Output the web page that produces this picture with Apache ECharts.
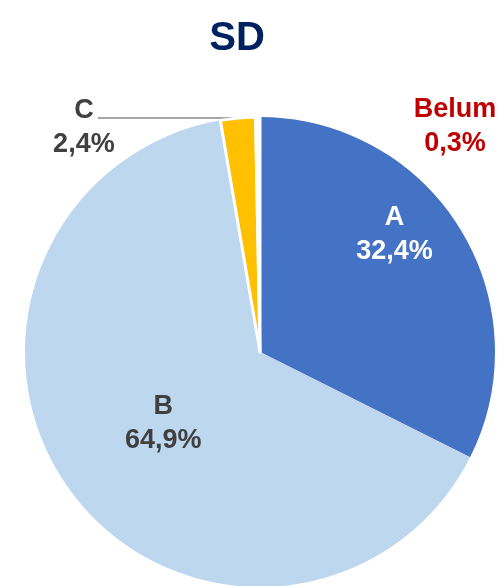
<!DOCTYPE html>
<html>
<head>
    <meta charset="utf-8">
    <title>SD</title>
    <script src="https://cdn.jsdelivr.net/npm/echarts@6/dist/echarts.min.js"></script>
    <style>
        html, body { margin: 0; padding: 0; background: #fff; }
    </style>
</head>
<body>
    <div id="main" style="width: 504px;height:586px;"></div>
    <script type="text/javascript">
        // data
        var categories = ['A', 'B', 'C', 'Belum'];
        var values = [32.4, 64.9, 2.4, 0.3];
        var colors = ['#4472C4', '#BDD7EE', '#FFC000', '#FFFFFF'];
        var labelColors = ['#FFFFFF', '#404040', '#404040', '#C00000'];

        var font = "'Liberation Sans', Arial, sans-serif";

        var data = [];
        for (var i = 0; i < categories.length; i++) {
            var item = {
                name: categories[i],
                value: values[i],
                itemStyle: { color: colors[i] },
                label: { color: labelColors[i] }
            };
            if (i < 2) {
                item.label.position = 'inside';
                item.labelLine = { show: false };
            } else {
                item.itemStyle.borderColor = '#FFFFFF';
                item.itemStyle.borderWidth = 3;
                item.label.position = 'outside';
            }
            data.push(item);
        }
        // C has a leader line, Belum does not
        data[2].labelLine = {
            show: true,
            length: 0,
            length2: 140,
            lineStyle: { color: '#A6A6A6', width: 2 }
        };
        data[2].label.distanceToLabelLine = 0;
        data[3].labelLine = { show: false };

        var myChart = echarts.init(document.getElementById('main'));

        var option = {
            animation: false,
            title: {
                text: 'SD',
                left: 232,
                top: 14,
                textAlign: 'center',
                textStyle: {
                    fontFamily: font,
                    fontSize: 40,
                    fontWeight: 'bold',
                    color: '#002060'
                }
            },
            series: [{
                type: 'pie',
                center: [260, 352],
                radius: 235,
                startAngle: 90,
                clockwise: true,
                avoidLabelOverlap: false,
                silent: true,
                emphasis: { disabled: true },
                itemStyle: { borderWidth: 0 },
                label: {
                    fontFamily: font,
                    fontSize: 27,
                    fontWeight: 'bold',
                    lineHeight: 34,
                    align: 'center',
                    formatter: function (p) {
                        return p.name + '\n' + String(p.value).replace('.', ',') + '%';
                    }
                },
                labelLayout: function (params) {
                    if (params.dataIndex === 0) {
                        return { dx: 32, dy: -54 };
                    }
                    if (params.dataIndex === 2) {
                        return { dx: -14, dy: 10, align: 'center', verticalAlign: 'middle' };
                    }
                    if (params.dataIndex === 3) {
                        return { x: 455, y: 127, align: 'center', verticalAlign: 'middle' };
                    }
                },
                data: data
            }]
        };

        myChart.setOption(option);
    </script>
</body>
</html>
